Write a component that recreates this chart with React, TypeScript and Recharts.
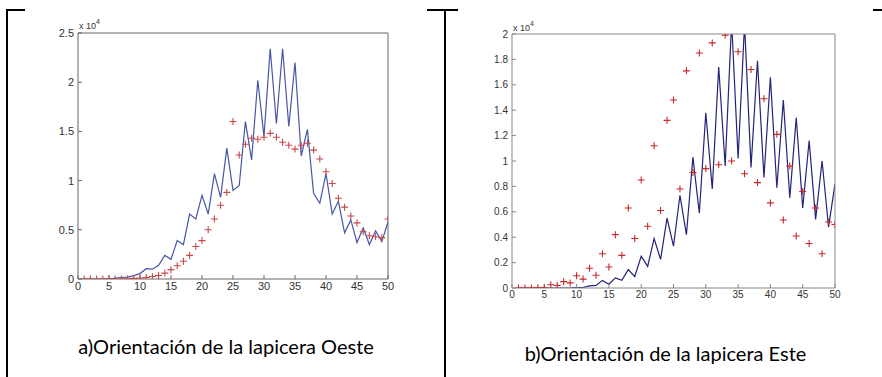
import React from "react";
import { ComposedChart, Line, Scatter, XAxis, YAxis } from "recharts";

const STEPS = [
  1, 2, 3, 4, 5, 6, 7, 8, 9, 10, 11, 12, 13, 14, 15, 16, 17, 18, 19, 20, 21, 22, 23, 24, 25,
  26, 27, 28, 29, 30, 31, 32, 33, 34, 35, 36, 37, 38, 39, 40, 41, 42, 43, 44, 45, 46, 47, 48, 49, 50,
];

// a) Oeste
const OESTE_LINE = [
  0, 0, 0, 0, 0, 100, 150, 200, 350, 550, 1050, 1000, 1400, 2400, 2000, 3900, 3500, 6600, 6100, 8500,
  6600, 10700, 8300, 13300, 9000, 9500, 16000, 12100, 20200, 14500, 23400, 15800, 23400, 15500, 22000,
  12500, 15200, 8700, 7700, 10700, 6600, 7900, 4700, 6000, 3700, 5200, 3500, 4900, 3800, 5800,
];
const OESTE_PLUS = [
  0, 0, 0, 0, 0, 0, 0, 30, 60, 100, 150, 250, 350, 600, 950, 1350, 1800, 2400, 3300, 3900,
  5000, 6100, 7500, 8800, 16000, 12600, 13700, 14300, 14200, 14400, 14800, 14400, 13900, 13600, 13200,
  13600, 13800, 13100, 12200, 10900, 9700, 8200, 7300, 6400, 5700, 4800, 4400, 4300, 4200, 6100,
];

// b) Este
const ESTE_LINE = [
  0, 0, 0, 0, 0, 0, 0, 0, 0, 30, 40, 160, 200, 600, 300, 800, 600, 1450, 900, 2500,
  1700, 3900, 2250, 5500, 3300, 7300, 4200, 10300, 5900, 13800, 7800, 17400, 9600, 21000, 10200,
  20800, 9500, 17900, 8700, 16600, 7900, 14800, 7100, 13400, 6300, 11600, 5400, 10000, 4800, 8200,
];
const ESTE_PLUS = [
  0, 0, 0, 20, 20, 260, 200, 500, 400, 970, 700, 1550, 1000, 2700, 1650, 4200, 2570, 6300, 3900, 8500,
  4860, 11200, 6100, 13200, 14800, 7800, 17100, 9100, 18500, 9400, 19300, 9700, 19900, 10000, 18600,
  9000, 17200, 8300, 14900, 6700, 12100, 5350, 9600, 4100, 7600, 3500, 6300, 2700, 5200, 5000,
];

const X_TICKS = [0, 5, 10, 15, 20, 25, 30, 35, 40, 45, 50];
const OESTE_Y_TICKS = [0, 5000, 10000, 15000, 20000, 25000];
const ESTE_Y_TICKS = [0, 2000, 4000, 6000, 8000, 10000, 12000, 14000, 16000, 18000, 20000];

const fmtY = (v: number) => String(v / 1e4);

const Plus = (color: string) => (props: any) => {
  const { cx, cy } = props;
  if (cx == null || cy == null) return null;
  return (
    <path
      d={`M${cx - 3.5},${cy}H${cx + 3.5}M${cx},${cy - 3.5}V${cy + 3.5}`}
      stroke={color}
      strokeWidth={1.1}
      fill="none"
    />
  );
};

interface PanelProps {
  line: number[];
  plus: number[];
  yTicks: number[];
  yMax: number;
  margin: { top: number; right: number; bottom: number; left: number };
  axisColor: string;
  lineColor: string;
  plusColor: string;
  fontSize: number;
}

function Panel({ line, plus, yTicks, yMax, margin, axisColor, lineColor, plusColor, fontSize }: PanelProps) {
  const data = STEPS.map((s, i) => ({ x: s, line: line[i], plus: plus[i] }));
  const tickStyle = { fontSize, fill: "#333", fontFamily: "Liberation Sans, Arial, sans-serif" };
  return (
    <ComposedChart width={441} height={320} data={data} margin={margin}>
      <XAxis
        xAxisId="b"
        dataKey="x"
        type="number"
        domain={[0, 50]}
        ticks={X_TICKS}
        allowDataOverflow
        height={20}
        stroke={axisColor}
        tickSize={-4}
        tickMargin={7}
        tick={tickStyle}
      />
      {/* box top edge with inward ticks */}
      <XAxis
        xAxisId="t"
        orientation="top"
        type="number"
        domain={[0, 50]}
        ticks={X_TICKS}
        height={1}
        stroke={axisColor}
        tickSize={-4}
        tick={false}
      />
      <YAxis
        yAxisId="l"
        type="number"
        domain={[0, yMax]}
        ticks={yTicks}
        allowDataOverflow
        width={40}
        stroke={axisColor}
        tickSize={-4}
        tickMargin={8}
        tick={tickStyle}
        tickFormatter={fmtY}
      />
      {/* box right edge with inward ticks */}
      <YAxis
        yAxisId="r"
        orientation="right"
        type="number"
        domain={[0, yMax]}
        ticks={yTicks}
        width={1}
        stroke={axisColor}
        tickSize={-4}
        tick={false}
      />
      <Line
        xAxisId="b"
        yAxisId="l"
        type="linear"
        dataKey="line"
        stroke={lineColor}
        strokeWidth={1.2}
        dot={false}
        isAnimationActive={false}
      />
      <Scatter
        xAxisId="b"
        yAxisId="l"
        dataKey="plus"
        shape={Plus(plusColor)}
        isAnimationActive={false}
      />
    </ComposedChart>
  );
}

const expLabel = (left: number, top: number) => (
  <div
    style={{
      position: "absolute",
      left,
      top,
      fontSize: 9,
      color: "#333",
      fontFamily: "Liberation Sans, Arial, sans-serif",
      lineHeight: "10px",
    }}
  >
    x 10<sup style={{ fontSize: 7, verticalAlign: "5px" }}>4</sup>
  </div>
);

const caption: React.CSSProperties = {
  position: "absolute",
  fontFamily: "Lato, sans-serif",
  fontSize: 20,
  lineHeight: "24px",
  color: "#000",
  textAlign: "center",
  whiteSpace: "nowrap",
};

export default function App() {
  return (
    <div style={{ position: "absolute", left: 0, top: 0, width: 882, height: 377, background: "#fff", overflow: "hidden" }}>
      {/* table borders */}
      <div style={{ position: "absolute", left: 6, top: 9, width: 876, height: 2, background: "#000" }} />
      <div style={{ position: "absolute", left: 6, top: 9, width: 2, height: 368, background: "#000" }} />
      <div style={{ position: "absolute", left: 444, top: 9, width: 2, height: 368, background: "#000" }} />

      {/* left figure */}
      <div style={{ position: "absolute", left: 25, top: 8, width: 402, height: 292, background: "#fff" }} />
      <div style={{ position: "absolute", left: 0, top: 0 }}>
        <Panel
          line={OESTE_LINE}
          plus={OESTE_PLUS}
          yTicks={OESTE_Y_TICKS}
          yMax={25000}
          margin={{ top: 32, right: 52, bottom: 21, left: 38 }}
          axisColor="#666"
          lineColor="#4656a8"
          plusColor="#c84848"
          fontSize={11}
        />
      </div>
      {expLabel(79, 17)}
      <div style={{ ...caption, left: 25, width: 402, top: 334 }}>a)Orientación de la lapicera Oeste</div>

      {/* right figure */}
      <div style={{ position: "absolute", left: 458, top: 8, width: 415, height: 300, background: "#fff" }} />
      <div style={{ position: "absolute", left: 441, top: 0 }}>
        <Panel
          line={ESTE_LINE}
          plus={ESTE_PLUS}
          yTicks={ESTE_Y_TICKS}
          yMax={20000}
          margin={{ top: 33, right: 46, bottom: 12, left: 31 }}
          axisColor="#888"
          lineColor="#22237a"
          plusColor="#c82828"
          fontSize={10}
        />
      </div>
      {expLabel(513, 19)}
      <div style={{ ...caption, left: 458, width: 415, top: 341 }}>b)Orientación de la lapicera Este</div>
    </div>
  );
}
